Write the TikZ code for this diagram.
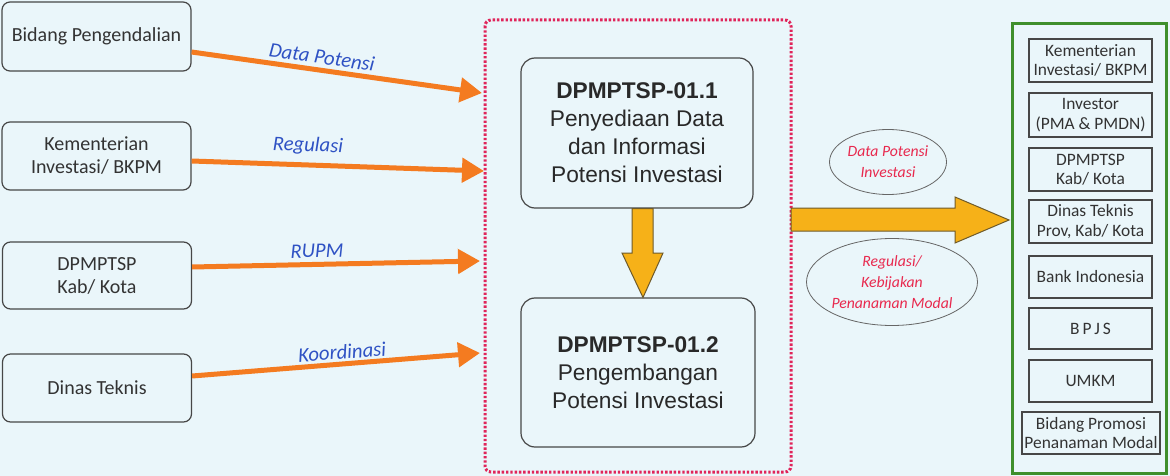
\documentclass[tikz,border=0pt]{standalone}
\usepackage{fontspec}
\setmainfont{Carlito}
\newfontfamily\arialf{Liberation Sans}
\usetikzlibrary{arrows.meta,calc,shapes.geometric}
\definecolor{bg}{HTML}{EAF6FA}
\definecolor{orng}{HTML}{F47B20}
\definecolor{gold}{HTML}{F6B118}
\definecolor{goldline}{HTML}{6E5A2A}
\definecolor{lblue}{HTML}{2F52C4}
\definecolor{lred}{HTML}{E8294E}
\definecolor{dotred}{HTML}{E0245A}
\definecolor{grn}{HTML}{3F8F2C}
\definecolor{txt}{HTML}{333333}
\tikzset{
  srcbox/.style={draw=txt!90,line width=1.2pt,rounded corners=8pt,minimum width=189pt,align=center,text=txt,font=\fontsize{20}{23}\selectfont,inner sep=0pt},
  procbox/.style={draw=txt!90,line width=1.2pt,rounded corners=14pt,align=center,text=txt!80!black,font=\arialf\fontsize{22.7}{28}\selectfont,inner sep=0pt},
  tgtbox/.style={draw=txt!90,line width=1.2pt,minimum width=123pt,align=center,text=txt,font=\fontsize{17.4}{19.5}\selectfont,inner sep=0pt},
  flow/.style={draw=orng,line width=5pt,-{Triangle[length=22pt,width=24pt]}},
  flowlbl/.style={text=lblue,font=\itshape\fontsize{20.7}{23}\selectfont,inner sep=0pt},
  bubble/.style={draw=gray!80!black,line width=0.8pt,ellipse,align=center,text=lred,font=\itshape\fontsize{15.7}{21}\selectfont,inner sep=0pt},
  bigarrow/.style={fill=gold,draw=goldline,line width=1pt,line join=miter}
}
\begin{document}
\begin{tikzpicture}[x=1pt,y=-1pt]
\fill[bg] (0,0) rectangle (1170,476);
\useasboundingbox (0,0) rectangle (1170,476);

% source boxes
\node[srcbox,minimum height=69pt] (b1) at (96.5,36.5) {Bidang Pengendalian};
\node[srcbox,minimum height=68pt] (b2) at (96.5,156) {Kementerian\\Investasi/ BKPM};
\node[srcbox,minimum height=67pt] (b3) at (97,275.5) {DPMPTSP\\Kab/ Kota};
\node[srcbox,minimum height=68pt] (b4) at (97,388) {Dinas Teknis};

% dotted frame
\draw[dotred,line width=3pt,dash pattern=on 2.4pt off 1.9pt,rounded corners=6pt] (485,20) rectangle (791,472);

% process boxes
\node[procbox,minimum width=232pt,minimum height=150pt] (p1) at (637,133) {{\bfseries DPMPTSP-01.1}\\Penyediaan Data\\dan Informasi\\Potensi Investasi};
\node[procbox,minimum width=234pt,minimum height=149pt] (p2) at (638,372.5) {{\bfseries DPMPTSP-01.2}\\Pengembangan\\Potensi Investasi};

% tips of the orange arrows
\coordinate (t1) at (482,93);
\coordinate (t2) at (484,171);
\coordinate (t3) at (480,261);
\coordinate (t4) at (480,353);

\draw[flow] ($(b1.east)+(0,15.5)$) -- (t1);
\draw[flow] ($(b2.east)+(0,5)$) -- (t2);
\draw[flow] ($(b3.east)+(0,-8.5)$) -- (t3);
\draw[flow] ($(b4.east)+(0,-12)$) -- (t4);

\node[flowlbl,rotate=-8] (l1) at (322,57) {Data Potensi};
\node[flowlbl,rotate=-2] (l2) at (308,146) {Regulasi};
\node[flowlbl,rotate=1] (l3) at (317,251) {RUPM};
\node[flowlbl,rotate=4] (l4) at (342,352) {Koordinasi};

% down arrow
\draw[bigarrow] (632,208.5) -- (653,208.5) -- (653,253) -- (663,253) -- (643,297.5) -- (622,253) -- (632,253) -- cycle;

% green frame and target boxes
\draw[grn,line width=3pt] (1012,24) rectangle (1166,473);
\node[tgtbox,minimum height=43pt] (r1) at (1090.5,60.5) {Kementerian\\Investasi/ BKPM};
\node[tgtbox,minimum height=44pt] (r2) at (1090.5,115) {Investor\\(PMA \& PMDN)};
\node[tgtbox,minimum height=43pt] (r3) at (1090.5,169.5) {DPMPTSP\\Kab/ Kota};
\node[tgtbox,minimum height=43pt] (r4) at (1090.5,221.5) {Dinas Teknis\\Prov, Kab/ Kota};
\node[tgtbox,minimum height=42pt] (r5) at (1090.5,277) {Bank Indonesia};
\node[tgtbox,minimum height=41pt] (r6) at (1090.5,328.5) {B\,P\,J\,S};
\node[tgtbox,minimum height=42pt] (r7) at (1090.5,381) {UMKM};
\node[tgtbox,minimum width=138pt,minimum height=42pt] (r8) at (1091,433) {Bidang Promosi\\Penanaman Modal};

% right arrow
\draw[bigarrow] (791,208) -- (955,208) -- (955,197) -- (1009,220) -- (955,243) -- (955,231) -- (791,231) -- cycle;

% bubbles
\node[bubble,minimum width=117pt,minimum height=65pt] (e1) at (888,162) {Data Potensi\\Investasi};
\node[bubble,minimum width=141pt,minimum height=87pt] (e2) at (892,282) {Regulasi/\\Kebijakan\\Penanaman Modal};
\end{tikzpicture}
\end{document}
